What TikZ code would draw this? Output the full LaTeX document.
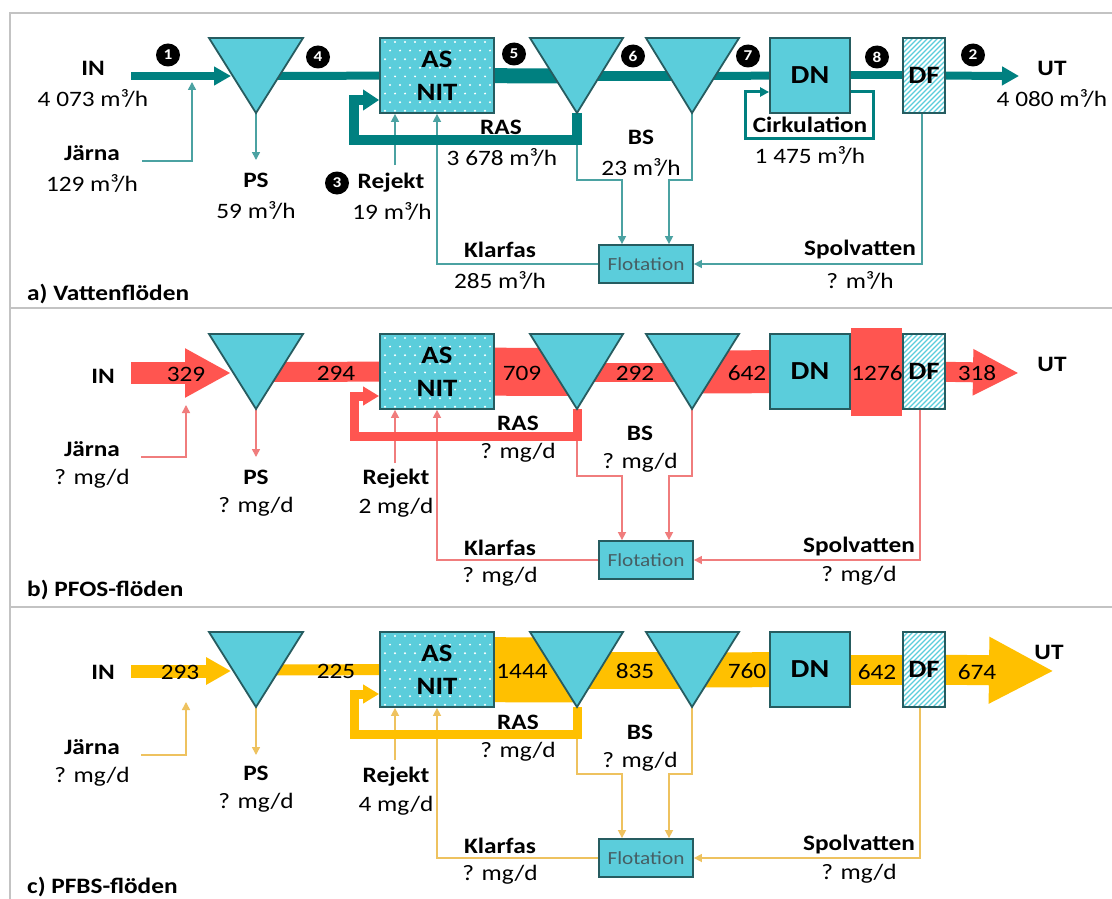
\documentclass[tikz,border=0pt]{standalone}
\usepackage{fontspec}
\setmainfont{Carlito}[FakeStretch=1.15]
\usetikzlibrary{arrows.meta,shapes.geometric}
\pgfdeclarelayer{bg}
\pgfsetlayers{bg,main}
\definecolor{cy}{RGB}{91,205,219}
\definecolor{bd}{RGB}{38,92,96}
\definecolor{tl}{RGB}{0,128,128}
\definecolor{tlthin}{RGB}{75,162,162}
\definecolor{rd}{RGB}{255,85,80}
\definecolor{rdthin}{RGB}{240,125,125}
\definecolor{yl}{RGB}{255,192,0}
\definecolor{ylthin}{RGB}{238,194,95}
\definecolor{framegray}{RGB}{195,195,195}
\definecolor{flot}{RGB}{70,95,100}
\tikzset{
  shp/.style={draw=bd, line width=1.8pt, fill=cy},
  lab/.style={inner sep=0pt, font=\fontsize{22}{24}\selectfont},
  blab/.style={inner sep=0pt, font=\fontsize{22}{24}\selectfont\bfseries},
  num/.style={inner sep=0pt, font=\fontsize{22}{24}\selectfont},
  badge/.style={ellipse, fill=black, text=white, minimum width=24pt, minimum height=23pt, inner sep=0pt, font=\fontsize{15}{15}\selectfont\bfseries},
  thinline/.style={line width=1.5pt, -{Triangle[length=8pt,width=8pt]}},
  dotfill/.style={path picture={
    \foreach \r in {0,...,8}{\foreach \c in {0,...,11}{
      \pgfmathsetmacro\xx{5+10*\c+5*mod(\r,2)}
      \fill[white] ([shift={(\xx,4+8.6*\r)}]path picture bounding box.north west) circle (1.1);
    }}}},
  hatchfill/.style={path picture={
    \foreach \i in {-18,...,9}{
      \draw[cy, line width=1.1pt] ([shift={(\i*5,0)}]path picture bounding box.south west) -- ++(95,-95);
    }}},
}
\newcommand\panelshapes[2]{%
\begin{scope}[shift={(0,#2)}]
  \filldraw[shp] (209,38) -- (303,38) -- (256,113) -- cycle;
  \filldraw[shp] (530,38) -- (623,38) -- (577,113) -- cycle;
  \filldraw[shp] (646,38) -- (739,38) -- (692,113) -- cycle;
  \coordinate (#1t1) at (256,113); \coordinate (#1c1) at (256,76);
  \coordinate (#1t2) at (577,113); \coordinate (#1c2) at (577,76);
  \coordinate (#1t3) at (692,113); \coordinate (#1c3) at (692,76);
  \node[shp, dotfill, minimum width=114pt, minimum height=75pt, inner sep=0pt, align=center, font=\fontsize{25}{33}\selectfont\bfseries] (#1AS) at (437,75.5) {AS\\NIT};
  \node[shp, minimum width=80pt, minimum height=75pt, inner sep=0pt, font=\fontsize{26}{26}\selectfont\bfseries] (#1DN) at (810,75.5) {DN};
  \node[shp, fill=white, hatchfill, minimum width=42pt, minimum height=75pt, inner sep=0pt, font=\fontsize{25}{25}\selectfont\bfseries] (#1DF) at (924,75.5) {DF};
  \node[shp, minimum width=94pt, minimum height=38pt, inner sep=0pt, text=flot, font=\fontsize{18.5}{20}\selectfont] (#1Fl) at (646,264) {Flotation};
\end{scope}}
\begin{document}
\begin{tikzpicture}[x=1pt,y=-1pt]
\useasboundingbox (0,0) rectangle (1112,899);
\begin{pgfonlayer}{bg}
\fill[white] (0,0) rectangle (1112,899);
\end{pgfonlayer}
\draw[framegray, line width=2pt] (1112,13) -- (10,13) -- (10,899);
\draw[framegray, line width=2pt] (10,308) -- (1112,308);
\draw[framegray, line width=2pt] (10,607) -- (1112,607);

\panelshapes{a}{0}
\panelshapes{b}{296}
\panelshapes{c}{594}

% ---------------- panel a
\coordinate (ain) at (131,76); \coordinate (ainT) at (231,76);
\coordinate (aut) at (1019,76);
\coordinate (ajar) at (142,161); \coordinate (ajT) at (192,82);
\coordinate (arej) at (395,165);
\begin{pgfonlayer}{bg}
\draw[thinline, tlthin] (ajar) -| (ajT);
\draw[thinline, tlthin] (at1) -- ++(0,47);
\draw[thinline, tlthin] (arej) -- (arej |- aAS.south);
\draw[thinline, tlthin] (aFl.west) -| (aAS.south);
\draw[thinline, tlthin] (at2) -- ++(0,67) -| ([xshift=-24pt]aFl.north);
\draw[thinline, tlthin] (at3) -- ++(0,67) -| ([xshift=23pt]aFl.north);
\draw[thinline, tlthin] ([xshift=-2pt]aDF.south) |- (aFl.east);
\draw[tl, line width=8pt, -{Triangle[length=17pt,width=18pt]}] (ain) -- (ainT);
\draw[tl, line width=8pt] (ac1) -- (aAS);
\draw[tl, line width=15pt] (aAS) -- (ac2);
\draw[tl, line width=10pt] (ac2) -- (ac3);
\draw[tl, line width=8pt] (ac3) -- (aDN);
\draw[tl, line width=8pt] (aDN) -- (aDF);
\draw[tl, line width=8pt, -{Triangle[length=17pt,width=18pt]}] (aDF) -- (aut);
\draw[tl, line width=10pt, -{Triangle[length=16pt,width=20pt]}] (at2) -- ++(0,27) -| ++(-223,-40) -- ([shift={(0,24.5)}]aAS.west);
\end{pgfonlayer}
\draw[tl, line width=3pt, -{Triangle[length=9pt,width=9pt]}] ([shift={(0,16.5)}]aDN.east) -| ++(23,46) -| ([shift={(-24,16.5)}]aDN.west) -- ([shift={(0,16.5)}]aDN.west);

\node[badge] (ab1) at (168,55) {1};
\node[badge] (ab4) at (318,57) {4};
\node[badge] (ab5) at (514,54) {5};
\node[badge] (ab6) at (633,56) {6};
\node[badge] (ab7) at (748,56) {7};
\node[badge] (ab8) at (877,57) {8};
\node[badge] (ab2) at (973,55) {2};
\node[badge] (ab3) at (337,183) {3};

\node[blab] (aINl) at (93,68) {IN};
\node[lab] (aINv) at (93,98) {4 073 m³/h};
\node[blab] (aJl) at (92,153) {Järna};
\node[lab] (aJv) at (92,183) {129 m³/h};
\node[blab] (aPSl) at (256,180) {PS};
\node[lab] (aPSv) at (256,210) {59 m³/h};
\node[blab] (aRl) at (391,183) {Rejekt};
\node[lab] (aRv) at (392,211) {19 m³/h};
\node[blab] (aRASl) at (501,127) {RAS};
\node[lab] (aRASv) at (502,157) {3 678 m³/h};
\node[blab] (aBSl) at (641,137) {BS};
\node[lab] (aBSv) at (641,167) {23 m³/h};
\node[blab] (aKl) at (500,250) {Klarfas};
\node[lab] (aKv) at (500,280) {285 m³/h};
\node[blab] (aSl) at (860,250) {Spolvatten};
\node[lab] (aSv) at (860,280) {? m³/h};
\node[blab] (aCl) at (810,125) {Cirkulation};
\node[lab] (aCv) at (810,155) {1 475 m³/h};
\node[blab] (aUTl) at (1052,68) {UT};
\node[lab] (aUTv) at (1052,98) {4 080 m³/h};
\node[blab, anchor=west] (atitle) at (27,294) {a) Vattenflöden};

% ---------------- panel b
\begin{scope}[shift={(0,296)}]
\coordinate (bin) at (131,77); \coordinate (binT) at (231,77);
\coordinate (but) at (1019,77);
\coordinate (bjar) at (141,161); \coordinate (bjT) at (186,109);
\coordinate (brej) at (395,167);
\end{scope}
\begin{pgfonlayer}{bg}
\draw[thinline, rdthin] (bjar) -| (bjT);
\draw[thinline, rdthin] (bt1) -- ++(0,48);
\draw[thinline, rdthin] (brej) -- (brej |- bAS.south);
\draw[thinline, rdthin] (bFl.west) -| (bAS.south);
\draw[thinline, rdthin] (bt2) -- ++(0,67) -| ([xshift=-24pt]bFl.north);
\draw[thinline, rdthin] (bt3) -- ++(0,67) -| ([xshift=23pt]bFl.north);
\draw[thinline, rdthin] ([xshift=-4pt]bDF.south) |- (bFl.east);
\draw[rd, line width=22pt, -{Triangle[length=46pt,width=46pt]}] (bin) -- (binT);
\draw[rd, line width=20pt] (bc1) -- (bAS);
\draw[rd, line width=48pt] (bAS) -- (bc2);
\draw[rd, line width=19pt] (bc2) -- (bc3);
\draw[rd, line width=43pt] (bc3) -- (bDN);
\draw[rd, line width=88pt] (bDN) -- (bDF);
\draw[rd, line width=20pt, -{Triangle[length=46pt,width=43pt]}] (bDF) -- (but);
\draw[rd, line width=9pt, -{Triangle[length=16pt,width=18pt]}] (bt2) -- ++(0,27) -| ++(-223,-40) -- ([shift={(0,24.5)}]bAS.west);
\end{pgfonlayer}
\node[num] (bn1) at (186,374) {329};
\node[num] (bn2) at (336,373) {294};
\node[num] (bn3) at (522,373) {709};
\node[num] (bn4) at (635,373) {292};
\node[num] (bn5) at (747,373) {642};
\node[num] (bn6) at (877,373) {1276};
\node[num] (bn7) at (977,373) {318};
\node[blab] (bINl) at (103,376) {IN};
\node[blab] (bJl) at (92,449) {Järna};
\node[lab] (bJv) at (92,479) {? mg/d};
\node[blab] (bPSl) at (256,477) {PS};
\node[lab] (bPSv) at (256,507) {? mg/d};
\node[blab] (bRl) at (396,479) {Rejekt};
\node[lab] (bRv) at (396,508) {2 mg/d};
\node[blab] (bRASl) at (518,423) {RAS};
\node[lab] (bRASv) at (518,453) {? mg/d};
\node[blab] (bBSl) at (640,433) {BS};
\node[lab] (bBSv) at (640,463) {? mg/d};
\node[blab] (bKl) at (500,548) {Klarfas};
\node[lab] (bKv) at (500,577) {? mg/d};
\node[blab] (bSl) at (859,547) {Spolvatten};
\node[lab] (bSv) at (859,576) {? mg/d};
\node[blab] (bUTl) at (1052,364) {UT};
\node[blab, anchor=west] (btitle) at (27,590) {b) PFOS-flöden};

% ---------------- panel c
\begin{scope}[shift={(0,594)}]
\coordinate (cin) at (131,77); \coordinate (cinT) at (231,77);
\coordinate (cut) at (1054,77);
\coordinate (cjar) at (141,161); \coordinate (cjT) at (186,108);
\coordinate (crej) at (395,166);
\end{scope}
\begin{pgfonlayer}{bg}
\draw[thinline, ylthin] (cjar) -| (cjT);
\draw[thinline, ylthin] (ct1) -- ++(0,48);
\draw[thinline, ylthin] (crej) -- (crej |- cAS.south);
\draw[thinline, ylthin] (cFl.west) -| (cAS.south);
\draw[thinline, ylthin] (ct2) -- ++(0,67) -| ([xshift=-24pt]cFl.north);
\draw[thinline, ylthin] (ct3) -- ++(0,67) -| ([xshift=23pt]cFl.north);
\draw[thinline, ylthin] ([xshift=-4pt]cDF.south) |- (cFl.east);
\draw[yl, line width=13pt, -{Triangle[length=25pt,width=26pt]}] (cin) -- (cinT);
\draw[yl, line width=11pt] (cc1) -- (cAS);
\draw[yl, line width=65pt] (cAS) -- (cc2);
\draw[yl, line width=37pt] (cc2) -- (cc3);
\draw[yl, line width=35pt] (cc3) -- (cDN);
\draw[yl, line width=30pt] (cDN) -- (cDF);
\draw[yl, line width=30pt, -{Triangle[length=65pt,width=62pt]}] (cDF) -- (cut);
\draw[yl, line width=9pt, -{Triangle[length=16pt,width=18pt]}] (ct2) -- ++(0,27) -| ++(-223,-40) -- ([shift={(0,24.5)}]cAS.west);
\end{pgfonlayer}
\node[num] (cn1) at (180,672) {293};
\node[num] (cn2) at (336,671) {225};
\node[num] (cn3) at (522,671) {1444};
\node[num] (cn4) at (635,671) {835};
\node[num] (cn5) at (747,671) {760};
\node[num] (cn6) at (877,672) {642};
\node[num] (cn7) at (977,672) {674};
\node[blab] (cINl) at (103,672) {IN};
\node[blab] (cJl) at (92,747) {Järna};
\node[lab] (cJv) at (92,777) {? mg/d};
\node[blab] (cPSl) at (256,773) {PS};
\node[lab] (cPSv) at (256,803) {? mg/d};
\node[blab] (cRl) at (396,777) {Rejekt};
\node[lab] (cRv) at (396,806) {4 mg/d};
\node[blab] (cRASl) at (518,722) {RAS};
\node[lab] (cRASv) at (518,752) {? mg/d};
\node[blab] (cBSl) at (640,732) {BS};
\node[lab] (cBSv) at (640,762) {? mg/d};
\node[blab] (cKl) at (500,846) {Klarfas};
\node[lab] (cKv) at (500,875) {? mg/d};
\node[blab] (cSl) at (859,845) {Spolvatten};
\node[lab] (cSv) at (859,874) {? mg/d};
\node[blab] (cUTl) at (1049,652) {UT};
\node[blab, anchor=west] (ctitle) at (27,887) {c) PFBS-flöden};
\end{tikzpicture}
\end{document}
